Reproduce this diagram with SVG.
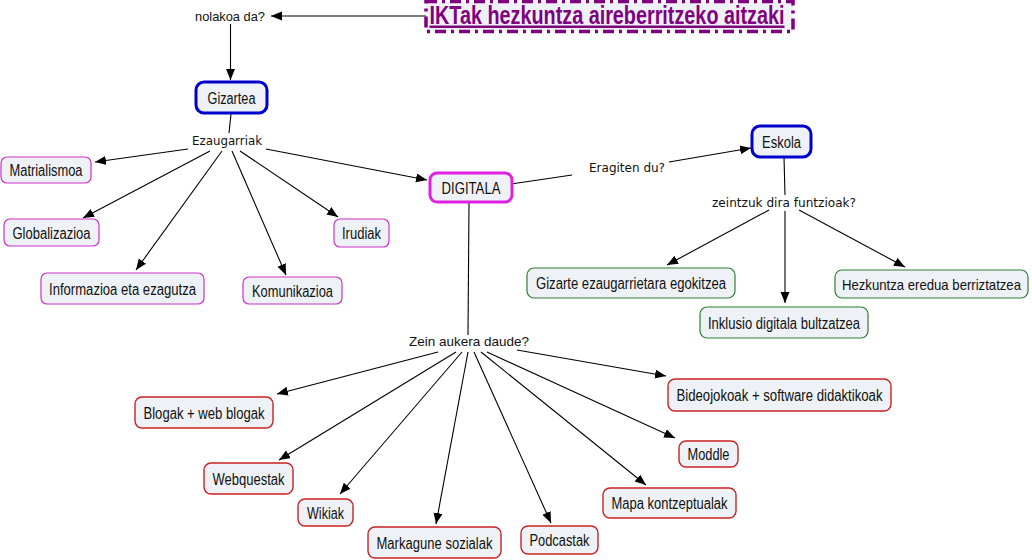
<svg xmlns="http://www.w3.org/2000/svg" width="1032" height="560" viewBox="0 0 1032 560">
<defs>
<marker id="ah" markerUnits="userSpaceOnUse" markerWidth="12" markerHeight="10" refX="11" refY="4.5" orient="auto">
<path d="M0,0 L11,4.5 L0,9 z" fill="#000"/>
</marker>
<style>
.n rect{fill:#eef2f6;}
.mag rect{stroke:#cc33cc;stroke-width:1.2;}
.red rect{stroke:#cc2222;stroke-width:1.4;}
.grn rect{stroke:#2f7f2f;stroke-width:1.2;}
.blu rect{stroke:#0000cc;stroke-width:3;}
.dig rect{stroke:#e020e0;stroke-width:3;}
.n text{font-family:"Liberation Sans",Arial,sans-serif;font-size:16px;fill:#111;text-anchor:middle;}
.lp{font-family:"DejaVu Sans",sans-serif;font-size:11.5px;fill:#111;text-anchor:middle;}
.lp2{font-family:"Liberation Sans",Arial,sans-serif;font-size:13px;fill:#111;text-anchor:middle;}
#conn line{stroke:#000;stroke-width:1.1;}
#conn line.a{marker-end:url(#ah);}
</style>
</defs>
<rect width="1032" height="560" fill="#fff"/>
<g id="conn">
<line class="a" x1="426" y1="16" x2="271" y2="16"/>
<line class="a" x1="230.5" y1="24" x2="230.5" y2="80"/>
<line x1="231" y1="114" x2="229" y2="133"/>
<line class="a" x1="188" y1="149" x2="95" y2="162"/>
<line class="a" x1="210" y1="151" x2="83" y2="218"/>
<line class="a" x1="222" y1="151" x2="136" y2="270"/>
<line class="a" x1="232" y1="151" x2="286" y2="275"/>
<line class="a" x1="240" y1="151" x2="338" y2="217"/>
<line class="a" x1="266" y1="149" x2="427" y2="180"/>
<line x1="511" y1="184" x2="572" y2="175"/>
<line class="a" x1="669" y1="162" x2="751" y2="148"/>
<line x1="784" y1="157" x2="785" y2="195"/>
<line class="a" x1="769" y1="210" x2="667" y2="265"/>
<line class="a" x1="785" y1="211" x2="785" y2="303"/>
<line class="a" x1="799" y1="210" x2="905" y2="267"/>
<line x1="469" y1="203" x2="468" y2="335"/>
<line class="a" x1="438" y1="352" x2="277" y2="394"/>
<line class="a" x1="456" y1="352" x2="279" y2="460"/>
<line class="a" x1="462" y1="352" x2="340" y2="494"/>
<line class="a" x1="468" y1="352" x2="436" y2="524"/>
<line class="a" x1="474" y1="352" x2="551" y2="523"/>
<line class="a" x1="481" y1="352" x2="646" y2="485"/>
<line class="a" x1="487" y1="352" x2="675" y2="438"/>
<line class="a" x1="517" y1="350" x2="666" y2="376"/>
</g>
<g id="lp-nolakoa"><text class="lp2" x="230" y="21" textLength="70" lengthAdjust="spacingAndGlyphs">nolakoa da?</text></g>
<g id="lp-ezaugarriak"><text class="lp" x="227" y="145" textLength="70" lengthAdjust="spacingAndGlyphs">Ezaugarriak</text></g>
<g id="lp-eragiten"><text class="lp" x="627" y="172" textLength="76" lengthAdjust="spacingAndGlyphs">Eragiten du?</text></g>
<g id="lp-zeintzuk"><text class="lp" x="784" y="207" textLength="144" lengthAdjust="spacingAndGlyphs">zeintzuk dira funtzioak?</text></g>
<g id="lp-zein"><text class="lp2" x="469" y="346" textLength="120" lengthAdjust="spacingAndGlyphs">Zein aukera daude?</text></g>

<g id="title">
<rect x="426" y="1.5" width="367" height="30" fill="#eef2f6" stroke="#800080" stroke-width="3.5" stroke-dasharray="11 5 3 5"/>
<text x="607" y="23.5" font-family="'Liberation Sans',Arial,sans-serif" font-size="25" font-weight="bold" fill="#800080" text-anchor="middle" text-decoration="underline" textLength="355" lengthAdjust="spacingAndGlyphs">IKTak hezkuntza aireberritzeko aitzaki</text>
</g>
<g id="gizartea" class="n blu"><rect x="196" y="82" width="71" height="31" rx="8"/><text x="231.5" y="103.5" textLength="48" lengthAdjust="spacingAndGlyphs">Gizartea</text></g>
<g id="matrialismoa" class="n mag"><rect x="1" y="157" width="90" height="26" rx="6"/><text x="46" y="176" textLength="73" lengthAdjust="spacingAndGlyphs">Matrialismoa</text></g>
<g id="globalizazioa" class="n mag"><rect x="4" y="219" width="95" height="27" rx="6"/><text x="51.5" y="238.5" textLength="78" lengthAdjust="spacingAndGlyphs">Globalizazioa</text></g>
<g id="informazioa" class="n mag"><rect x="41" y="273" width="163" height="31" rx="6"/><text x="122.5" y="294.5" textLength="147" lengthAdjust="spacingAndGlyphs">Informazioa eta ezagutza</text></g>
<g id="komunikazioa" class="n mag"><rect x="243" y="277" width="99" height="27" rx="6"/><text x="292.5" y="296.5" textLength="81" lengthAdjust="spacingAndGlyphs">Komunikazioa</text></g>
<g id="irudiak" class="n mag"><rect x="334" y="219" width="55" height="28" rx="6"/><text x="361.5" y="239" textLength="39" lengthAdjust="spacingAndGlyphs">Irudiak</text></g>
<g id="digitala" class="n dig"><rect x="430" y="173" width="82" height="29" rx="7"/><text x="471" y="193.5" textLength="59" lengthAdjust="spacingAndGlyphs">DIGITALA</text></g>
<g id="eskola" class="n blu"><rect x="752" y="126" width="59" height="31" rx="8"/><text x="781.5" y="147.5" textLength="39" lengthAdjust="spacingAndGlyphs">Eskola</text></g>
<g id="gizarte-ez" class="n grn"><rect x="527" y="268" width="208" height="30" rx="7"/><text x="631" y="289" textLength="190" lengthAdjust="spacingAndGlyphs">Gizarte ezaugarrietara egokitzea</text></g>
<g id="inklusio" class="n grn"><rect x="700" y="307" width="168" height="31" rx="7"/><text x="784" y="328.5" textLength="152" lengthAdjust="spacingAndGlyphs">Inklusio digitala bultzatzea</text></g>
<g id="hezkuntza" class="n grn"><rect x="835" y="270" width="193" height="28" rx="7"/><text x="931.5" y="289.5" style="font-size:14.5px" textLength="179" lengthAdjust="spacingAndGlyphs">Hezkuntza eredua berriztatzea</text></g>
<g id="blogak" class="n red"><rect x="135" y="397" width="138" height="31" rx="7"/><text x="204" y="418.5" textLength="121" lengthAdjust="spacingAndGlyphs">Blogak + web blogak</text></g>
<g id="webquestak" class="n red"><rect x="204" y="463" width="89" height="31" rx="7"/><text x="248.5" y="484.5" textLength="72" lengthAdjust="spacingAndGlyphs">Webquestak</text></g>
<g id="wikiak" class="n red"><rect x="298" y="499" width="55" height="27" rx="7"/><text x="325.5" y="518.5" textLength="37" lengthAdjust="spacingAndGlyphs">Wikiak</text></g>
<g id="markagune" class="n red"><rect x="368" y="527" width="133" height="31" rx="7"/><text x="434.5" y="548.5" textLength="116" lengthAdjust="spacingAndGlyphs">Markagune sozialak</text></g>
<g id="podcastak" class="n red"><rect x="521" y="526" width="77" height="28" rx="7"/><text x="559.5" y="546" textLength="60" lengthAdjust="spacingAndGlyphs">Podcastak</text></g>
<g id="mapa" class="n red"><rect x="603" y="488" width="133" height="30" rx="7"/><text x="669.5" y="509" textLength="116" lengthAdjust="spacingAndGlyphs">Mapa kontzeptualak</text></g>
<g id="moddle" class="n red"><rect x="679" y="441" width="59" height="26" rx="7"/><text x="708.5" y="460" textLength="42" lengthAdjust="spacingAndGlyphs">Moddle</text></g>
<g id="bideojokoak" class="n red"><rect x="668" y="379" width="223" height="32" rx="7"/><text x="779.5" y="401" textLength="206" lengthAdjust="spacingAndGlyphs">Bideojokoak + software didaktikoak</text></g>
</svg>
